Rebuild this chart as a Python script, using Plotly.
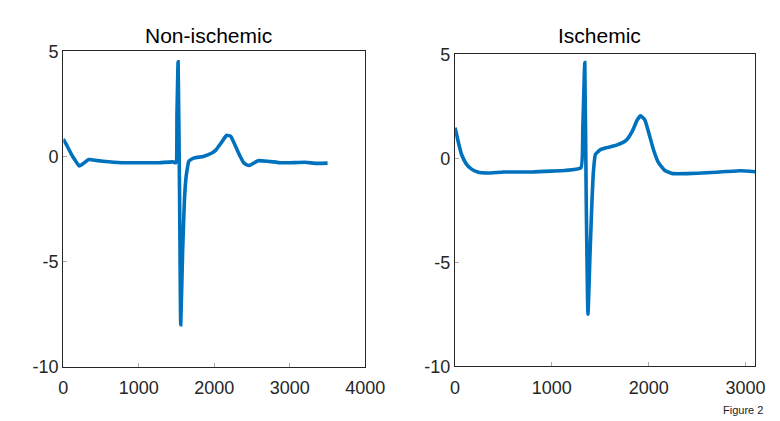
import plotly.graph_objects as go

# Non-ischemic beat
non_x = [0, 50, 100, 150, 209, 260, 337, 450, 600, 800, 1000, 1256, 1449, 1490,
         1505, 1520, 1540, 1555, 1580, 1605, 1625, 1641, 1662, 1726, 1855, 1962, 2020, 2068,
         2120, 2163, 2218, 2260, 2304, 2350, 2389, 2430, 2474, 2530, 2581, 2709, 2880, 3000, 3200, 3350, 3500]
non_y = [0.83, 0.5, 0.15, -0.15, -0.45, -0.35, -0.15, -0.2, -0.25, -0.3, -0.3, -0.3, -0.26, -0.3,
         2.0, 4.5, -2.0, -8.0, -4.5, -2.0, -1.0, -0.6, -0.23, -0.08, 0.0, 0.15, 0.3, 0.53,
         0.8, 1.01, 0.95, 0.65, 0.3, -0.05, -0.3, -0.4, -0.42, -0.3, -0.2, -0.23, -0.3, -0.3, -0.28, -0.33, -0.32]

# Ischemic beat
isc_x = [0, 33, 67, 117, 167, 233, 333, 500, 800, 1000, 1133, 1300,
         1320, 1340, 1355, 1373, 1395, 1415, 1430, 1450, 1500, 1567, 1667, 1767, 1833, 1883,
         1917, 1960, 2000, 2050, 2100, 2167, 2250, 2400, 2600, 2800, 2950, 3100]
isc_y = [1.47, 0.79, 0.18, -0.28, -0.51, -0.66, -0.71, -0.66, -0.66, -0.62, -0.59, -0.46,
         1.5, 4.6, -2.0, -7.5, -4.5, -2.0, -0.6, 0.18, 0.41, 0.51, 0.63, 0.86, 1.32, 1.85,
         2.04, 1.85, 1.24, 0.41, -0.2, -0.59, -0.74, -0.74, -0.7, -0.64, -0.6, -0.65]

titles = ["Non-ischemic", "Ischemic"]
x_ticks_left = [0, 1000, 2000, 3000, 4000]
x_ticks_right = [0, 1000, 2000, 3000]
y_ticks = [-10, -5, 0, 5]

W, H = 780, 421
blue = "#0072BD"

fig = go.Figure()
fig.add_trace(go.Scatter(x=non_x, y=non_y, mode="lines",
                         line=dict(color=blue, width=3.6, shape="spline", smoothing=0.4),
                         xaxis="x", yaxis="y", showlegend=False))
fig.add_trace(go.Scatter(x=isc_x, y=isc_y, mode="lines",
                         line=dict(color=blue, width=3.6, shape="spline", smoothing=0.4),
                         xaxis="x2", yaxis="y2", showlegend=False))

tickfont = dict(family="Liberation Sans, Arial", size=18, color="#262626")
axcommon = dict(showline=True, mirror=True, linecolor="#262626", linewidth=1.2,
                ticks="inside", ticklen=4, tickcolor="#aaaaaa", showgrid=False,
                zeroline=False, tickfont=tickfont)

dl = [52 / W, 364 / W]
dr = [456.7 / W, 766.7 / W]
yl = [1 - 366 / H, 1 - 35 / H]
yr = [1 - 365.7 / H, 1 - 38 / H]

ytext = [str(v) for v in y_ticks]

fig.update_layout(
    width=W, height=H, margin=dict(l=0, r=0, t=0, b=0),
    paper_bgcolor="white", plot_bgcolor="white",
    xaxis=dict(domain=dl, range=[0, 4000], tickvals=x_ticks_left,
               ticktext=[str(v) for v in x_ticks_left], anchor="y",
               ticklabelstandoff=5, **axcommon),
    yaxis=dict(domain=yl, range=[-10, 5], tickvals=y_ticks, ticktext=ytext, anchor="x", **axcommon),
    xaxis2=dict(domain=dr, range=[0, 3100], tickvals=x_ticks_right,
                ticktext=[str(v) for v in x_ticks_right], anchor="y2",
                ticklabelstandoff=5, **axcommon),
    yaxis2=dict(domain=yr, range=[-10, 5], tickvals=y_ticks, ticktext=ytext, anchor="x2", **axcommon),
    annotations=[
        dict(text=titles[0], x=(dl[0] + dl[1]) / 2 - 6 / W, y=1 - 18 / H, xref="paper", yref="paper",
             showarrow=False, font=dict(family="Liberation Sans, Arial", size=21, color="black"),
             xanchor="center", yanchor="middle"),
        dict(text=titles[1], x=(dr[0] + dr[1]) / 2 - 6 / W, y=1 - 18 / H, xref="paper", yref="paper",
             showarrow=False, font=dict(family="Liberation Sans, Arial", size=21, color="black"),
             xanchor="center", yanchor="middle"),
        dict(text="Figure 2", x=777 / W, y=1 - 412 / H, xref="paper", yref="paper",
             showarrow=False, font=dict(family="Liberation Sans, Arial", size=11, color="#222222"),
             xanchor="right", yanchor="middle"),
    ],
)

fig.write_html("out.html")
